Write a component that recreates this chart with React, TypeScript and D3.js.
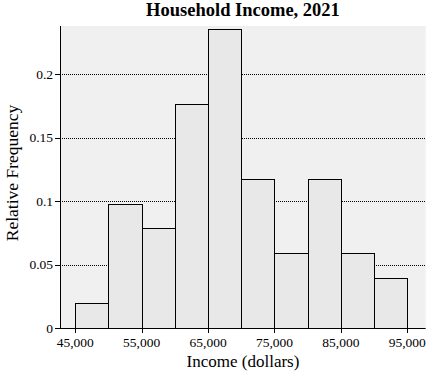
import React from "react";
import * as d3 from "d3";

const binStarts = [45000, 50000, 55000, 60000, 65000, 70000, 75000, 80000, 85000, 90000];
const binWidth = 5000;
const relFreq = [0.0196, 0.098, 0.0784, 0.1765, 0.2353, 0.1176, 0.0588, 0.1176, 0.0588, 0.0392];
const xTicks = [45000, 55000, 65000, 75000, 85000, 95000];
const yTicks = [0, 0.05, 0.1, 0.15, 0.2];

export default function App() {
  const W = 429, H = 373;
  const left = 60, right = 425.7, top = 26, bottom = 328;
  const x = d3.scaleLinear().domain([42700, 97770]).range([left, right]);
  const y = d3.scaleLinear().domain([0, 0.2378]).range([bottom, top]);
  const fmt = d3.format(",");
  const font = "'Liberation Serif', 'Times New Roman', serif";
  return (
    <svg width={W} height={H} style={{ position: "absolute", left: 0, top: 0 }} fontFamily={font}>
      <rect x={left} y={top} width={right - left} height={bottom - top} fill="#f0f0f0" />
      {yTicks.filter(t => t > 0).map(t => (
        <line key={"g" + t} x1={left} x2={right} y1={Math.round(y(t)) + 0.5} y2={Math.round(y(t)) + 0.5}
          stroke="#000" strokeWidth={1} strokeDasharray="1,1" />
      ))}
      {binStarts.map((b, i) => (
        <rect key={b} x={Math.round(x(b)) + 0.5} y={Math.round(y(relFreq[i])) + 0.5}
          width={Math.round(x(b + binWidth)) - Math.round(x(b))}
          height={Math.round(y(0)) - Math.round(y(relFreq[i]))}
          fill="#e8e8e8" stroke="#000" strokeWidth={1} />
      ))}
      <line x1={left + 0.5} x2={left + 0.5} y1={top} y2={bottom} stroke="#000" />
      <line x1={left} x2={right} y1={bottom + 0.5} y2={bottom + 0.5} stroke="#000" />
      {yTicks.map(t => (
        <g key={"y" + t}>
          <line x1={left - 5} x2={left} y1={Math.round(y(t)) + 0.5} y2={Math.round(y(t)) + 0.5} stroke="#000" />
          <text x={left - 7} y={y(t)} dy="0.35em" textAnchor="end" fontSize={13.5}>{String(t)}</text>
        </g>
      ))}
      {xTicks.map(t => (
        <g key={"x" + t}>
          <line x1={Math.round(x(t)) + 0.5} x2={Math.round(x(t)) + 0.5} y1={bottom} y2={bottom + 5} stroke="#000" />
          <text x={x(t)} y={bottom + 19} textAnchor="middle" fontSize={13.5}>{fmt(t)}</text>
        </g>
      ))}
      <text x={243} y={15.5} textAnchor="middle" fontSize={18.5} fontWeight="bold">Household Income, 2021</text>
      <text x={243} y={367} textAnchor="middle" fontSize={17}>Income (dollars)</text>
      <text transform={`translate(17.5,173) rotate(-90)`} textAnchor="middle" fontSize={17.5}>Relative Frequency</text>
    </svg>
  );
}
